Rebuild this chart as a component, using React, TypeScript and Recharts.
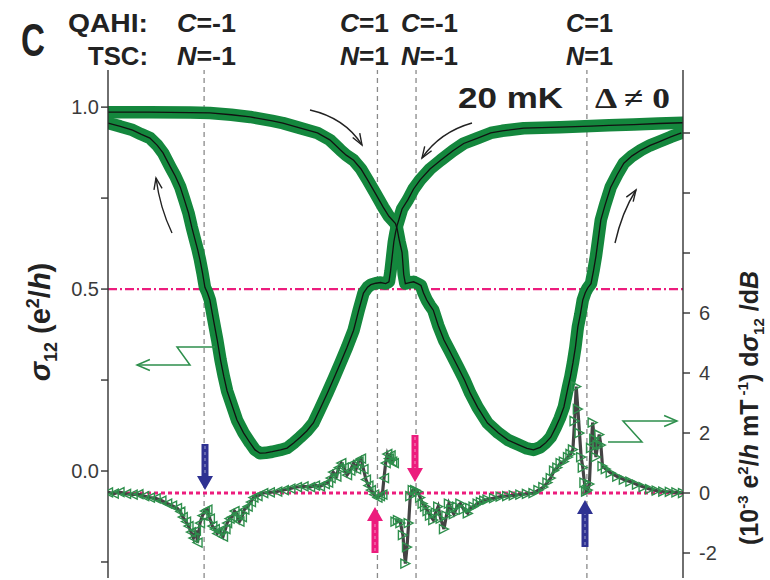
import { ComposedChart, Line, XAxis, YAxis, ReferenceLine } from 'recharts';

const GREEN = '#14873d';
const TRI = '#2e8f4c';
const PINK = '#ec1c7d';
const NAVY = '#2e3192';
const AXIS = '#333';
const FONT = '"Liberation Sans", Arial, sans-serif';

// sweep -B -> +B (starts on the upper flat branch at the left)
const upField = [
  -350, -300, -250, -226, -200, -177, -150, -137, -120, -95, -80, -67, -60, -51, -42, -34, -25, -15, -8, 0,
  2, 5, 8, 10, 12, 17, 22, 27, 31, 34, 38, 42, 46, 52, 59, 66, 76, 84, 91, 100, 112, 125, 137, 150, 160,
  168, 176, 183, 189, 195, 200, 205, 210, 213, 216, 219, 222, 225, 228, 231, 234, 238, 241, 244, 247, 250,
  255, 262, 270, 278, 288, 299, 310, 320, 335, 348,
];
const upSigma = [
  0.986, 0.986, 0.985, 0.984, 0.979, 0.973, 0.962, 0.956, 0.945, 0.929, 0.91, 0.882, 0.868, 0.854, 0.83, 0.8,
  0.765, 0.725, 0.7, 0.68, 0.665, 0.63, 0.6, 0.54, 0.515, 0.518, 0.52, 0.515, 0.51, 0.49, 0.47, 0.455, 0.442,
  0.4, 0.36, 0.33, 0.286, 0.25, 0.214, 0.175, 0.132, 0.105, 0.085, 0.072, 0.062, 0.058, 0.065, 0.078, 0.093,
  0.12, 0.145, 0.176, 0.23, 0.26, 0.297, 0.34, 0.396, 0.43, 0.47, 0.49, 0.503, 0.515, 0.55, 0.59, 0.64, 0.69,
  0.73, 0.78, 0.815, 0.846, 0.866, 0.882, 0.895, 0.904, 0.918, 0.929,
];

// sweep +B -> -B
const downField = [
  350, 320, 290, 260, 238, 200, 156, 130, 116, 100, 83, 70, 55, 42, 30, 22, 15, 8, 2, 0, -2, -4, -6, -8, -12,
  -18, -24, -30, -34, -39, -45, -51, -59, -67, -75, -83, -92, -100, -108, -116, -124, -132, -140, -150, -158,
  -165, -171, -177, -185, -193, -199, -205, -209, -213, -217, -222, -226, -229, -232, -235, -238, -241, -244,
  -248, -252, -257, -262, -268, -274, -283, -290, -299, -310, -320, -335, -350,
];
const downSigma = [
  0.957, 0.955, 0.952, 0.95, 0.948, 0.945, 0.942, 0.935, 0.929, 0.915, 0.9, 0.88, 0.854, 0.83, 0.8, 0.775,
  0.745, 0.72, 0.675, 0.655, 0.63, 0.59, 0.55, 0.52, 0.515, 0.518, 0.516, 0.512, 0.505, 0.489, 0.44, 0.387,
  0.34, 0.297, 0.255, 0.214, 0.17, 0.132, 0.11, 0.093, 0.077, 0.063, 0.058, 0.053, 0.05, 0.049, 0.058, 0.077,
  0.105, 0.14, 0.18, 0.22, 0.26, 0.305, 0.36, 0.42, 0.47, 0.49, 0.505, 0.545, 0.58, 0.61, 0.635, 0.67, 0.709,
  0.745, 0.78, 0.81, 0.835, 0.874, 0.895, 0.915, 0.926, 0.937, 0.947, 0.956,
];

// d sigma_12 / dB, negative-field half (10^-3 e^2/h mT^-1)
const derivLField = [
  -350, -343, -336, -328, -320, -313, -306, -299, -292, -285, -278, -272, -266, -262, -259, -255, -252, -249,
  -246, -243, -241, -238, -235, -232, -229, -226, -223, -220, -217, -214, -210, -207, -205, -202, -199, -196,
  -193, -190, -187, -184, -180, -176, -173, -168, -161, -153, -144, -136, -128, -120, -112, -104, -98, -92,
  -86, -82, -79, -76, -72, -69, -66, -63, -59, -55, -51, -48, -45, -42, -39, -36, -33, -30, -26, -22, -19,
  -16, -14, -12, -10, -8, -6, -4, -2,
];
const derivLVal = [
  0.02, -0.02, 0.03, -0.03, -0.05, -0.04, -0.1, -0.15, -0.18, -0.25, -0.35, -0.42, -0.5, -0.62, -0.8, -0.95,
  -1.1, -1.3, -1.5, -1.25, -1.65, -1.0, -0.75, -0.6, -0.55, -0.85, -1.1, -1.2, -1.35, -1.25, -1.45, -1.2,
  -1.0, -0.85, -0.8, -0.6, -0.7, -0.95, -0.8, -0.55, -0.45, -0.3, -0.15, -0.1, 0, 0.02, 0.05, 0.1, 0.15, 0.2,
  0.22, 0.2, 0.25, 0.22, 0.3, 0.35, 0.5, 0.7, 0.55, 0.85, 1.0, 0.85, 0.6, 0.75, 1.0, 0.8, 1.05, 1.15, 0.8,
  0.45, 0.25, 0.1, -0.05, -0.15, -0.1, -0.05, 0.5, 1.0, 1.3, 1.15, 1.25, 1.05, 1.0,
];

// d sigma_12 / dB, positive-field half
const derivRField = [
  0, 3, 6, 9, 12, 14, 16, 18, 21, 24, 27, 30, 33, 36, 39, 42, 46, 49, 52, 55, 59, 62, 65, 68, 71, 75, 79, 83,
  88, 91, 95, 100, 104, 108, 112, 120, 128, 136, 144, 152, 160, 168, 174, 180, 185, 189, 193, 197, 201, 205,
  210, 213, 216, 218, 220, 222, 224, 226, 228, 230, 232, 234, 236, 238, 240, 242, 244, 246, 248, 250, 252,
  256, 262, 270, 278, 286, 294, 302, 310, 318, 326, 334, 342, 350,
];
const derivRVal = [
  -0.95, -0.9, -1.0, -1.4, -2.35, -1.8, -1.0, -0.1, 0.1, 0.1, 0.05, -0.15, -0.35, -0.45, -0.6, -0.75, -0.9,
  -0.65, -0.45, -0.85, -1.2, -0.75, -0.35, -0.55, -0.7, -0.45, -0.35, -0.55, -0.68, -0.5, -0.45, -0.35, -0.3,
  -0.25, -0.22, -0.17, -0.12, -0.1, -0.08, -0.05, -0.03, 0, 0.1, 0.2, 0.35, 0.5, 0.75, 0.85, 1.0, 1.05, 1.2,
  1.3, 1.45, 2.4, 3.55, 2.8, 2.0, 1.2, 0.85, 0.35, 0.05, 0.1, 0.3, 1.5, 2.35, 1.8, 1.2, 1.6, 1.95, 1.6, 0.9,
  0.8, 0.67, 0.55, 0.45, 0.38, 0.28, 0.2, 0.13, 0.08, 0.05, 0.04, 0.02, 0.0,
];

const dashedFields = [-233, -22, 25, 233];
const xTicks = [-300, -200, -100, 0, 100, 200, 300];
const leftTicks = [-0.25, 0, 0.25, 0.5, 0.75, 1];
const rightTicks = [-2, 0, 2, 4, 6, 8, 10, 12];
const qahiLabels = ['C=-1', 'C=1', 'C=-1', 'C=1'];
const tscLabels = ['N=-1', 'N=1', 'N=-1', 'N=1'];
const labelX = [177, 340, 401, 566];
const labelW = [59, 49, 57, 47];

const zip = (xs: number[], ys: number[]) => xs.map((x, i) => ({ x, y: ys[i] }));
const upData = zip(upField, upSigma);
const downData = zip(downField, downSigma);
const derivLData = zip(derivLField, derivLVal);
const derivRData = zip(derivRField, derivRVal);

function triDot(dir: 'left' | 'right') {
  return (p: any) => {
    const { cx, cy, index } = p;
    const key = `${dir}-${index}`;
    if (cx == null || cy == null) return <g key={key} />;
    const s = 4.5;
    const pts =
      dir === 'left'
        ? `${cx - s},${cy} ${cx + s},${cy - s} ${cx + s},${cy + s}`
        : `${cx + s},${cy} ${cx - s},${cy - s} ${cx - s},${cy + s}`;
    return <polygon key={key} points={pts} fill="#fff" fillOpacity={0} stroke={TRI} strokeWidth={1.4} />;
  };
}

function head(tx: number, ty: number, fx: number, fy: number, len = 11, spread = 0.42) {
  const a = Math.atan2(ty - fy, tx - fx);
  const p1 = [tx - len * Math.cos(a - spread), ty - len * Math.sin(a - spread)];
  const p2 = [tx - len * Math.cos(a + spread), ty - len * Math.sin(a + spread)];
  return `M${p1[0]},${p1[1]} L${tx},${ty} L${p2[0]},${p2[1]}`;
}

function CurvedArrow({ d, tip, from }: { d: string; tip: [number, number]; from: [number, number] }) {
  return (
    <g fill="none" stroke="#222" strokeWidth={1.4}>
      <path d={d} />
      <path d={head(tip[0], tip[1], from[0], from[1], 12, 0.35)} />
    </g>
  );
}

function BlockArrow({ x, tail, tip, color }: { x: number; tail: number; tip: number; color: string }) {
  const dir = tip > tail ? 1 : -1;
  const hl = 14;
  const hw = 8;
  const sw = 3.5;
  const neck = tip - dir * hl;
  const pts = [
    [x - sw, tail],
    [x + sw, tail],
    [x + sw, neck],
    [x + hw, neck],
    [x, tip],
    [x - hw, neck],
    [x - sw, neck],
  ]
    .map((p) => p.join(','))
    .join(' ');
  return (
    <g>
      <polygon points={pts} fill={color} />
      <line x1={x} y1={tail + 2 * dir} x2={x} y2={neck} stroke="#fff" strokeOpacity={0.35} strokeWidth={1.5} strokeDasharray="3 3" />
    </g>
  );
}

function Overlay() {
  return (
    <svg
      width={770}
      height={580}
      style={{ position: 'absolute', left: 0, top: 0, pointerEvents: 'none' }}
      fontFamily={FONT}
    >
      <text transform="translate(21,56) scale(0.72,1)" fontSize={46} fontWeight="bold" fill="#222">
        C
      </text>
      <text x={148} y={32} textAnchor="end" fontSize={25} fontWeight="bold" fill="#222" textLength={80} lengthAdjust="spacingAndGlyphs">
        QAHI:
      </text>
      <text x={148} y={65} textAnchor="end" fontSize={25} fontWeight="bold" fill="#222" textLength={60} lengthAdjust="spacingAndGlyphs">
        TSC:
      </text>
      {qahiLabels.map((s, i) => (
        <text key={`q${i}`} x={labelX[i]} y={32} fontSize={25} fontWeight="bold" fill="#222" textLength={labelW[i]} lengthAdjust="spacingAndGlyphs">
          <tspan fontStyle="italic">{s[0]}</tspan>
          {s.slice(1)}
        </text>
      ))}
      {tscLabels.map((s, i) => (
        <text key={`t${i}`} x={labelX[i]} y={65} fontSize={25} fontWeight="bold" fill="#222" textLength={labelW[i]} lengthAdjust="spacingAndGlyphs">
          <tspan fontStyle="italic">{s[0]}</tspan>
          {s.slice(1)}
        </text>
      ))}

      <text x={458} y={108} fontSize={30} fontWeight="bold" fill="#222" textLength={105} lengthAdjust="spacingAndGlyphs">
        20 mK
      </text>
      <text x={595} y={108} fontSize={30} fontWeight="bold" fill="#222" fontFamily='"Liberation Serif", serif' textLength={75} lengthAdjust="spacingAndGlyphs">
        Δ ≠ 0
      </text>

      {/* axis titles */}
      <text transform="translate(50,322) rotate(-90)" textAnchor="middle" fontSize={29} fontWeight="bold" fill="#222">
        <tspan fontStyle="italic">σ</tspan>
        <tspan fontSize={18} dy={7}>12</tspan>
        <tspan dy={-7}> (e</tspan>
        <tspan fontSize={18} dy={-11}>2</tspan>
        <tspan dy={11}>/</tspan>
        <tspan fontStyle="italic">h</tspan>
        <tspan>)</tspan>
      </text>
      <text transform="translate(758,408) rotate(-90)" textAnchor="middle" fontSize={25} fontWeight="bold" fill="#222">
        <tspan>(10</tspan>
        <tspan fontSize={15} dy={-10}>-3</tspan>
        <tspan dy={10}> e</tspan>
        <tspan fontSize={15} dy={-10}>2</tspan>
        <tspan dy={10}>/</tspan>
        <tspan fontStyle="italic">h</tspan>
        <tspan> mT</tspan>
        <tspan fontSize={15} dy={-10}> -1</tspan>
        <tspan dy={10}>) d</tspan>
        <tspan fontStyle="italic">σ</tspan>
        <tspan fontSize={15} dy={6}>12</tspan>
        <tspan dy={-6}> /d</tspan>
        <tspan fontStyle="italic">B</tspan>
      </text>

      {/* sweep direction arrows */}
      <CurvedArrow d="M172,233 Q160,208 156,178" tip={[156, 178]} from={[160, 200]} />
      <CurvedArrow d="M310,110 Q345,118 362,145" tip={[362, 145]} from={[350, 125]} />
      <CurvedArrow d="M472,123 Q440,132 422,158" tip={[422, 158]} from={[435, 138]} />
      <CurvedArrow d="M615,243 Q622,212 636,190" tip={[636, 190]} from={[626, 205]} />

      {/* which-axis arrows */}
      <g fill="none" stroke={TRI} strokeWidth={1.5}>
        <path d="M215,347 L177,347 L190,365 L137,365" />
        <path d={head(137, 365, 160, 365, 14, 0.4)} />
        <path d="M608,442 L642,442 L623,421 L677,421" />
        <path d={head(677, 421, 650, 421, 14, 0.4)} />
      </g>

      <BlockArrow x={205} tail={444} tip={490} color={NAVY} />
      <BlockArrow x={585} tail={547} tip={500} color={NAVY} />
      <BlockArrow x={415} tail={435} tip={482} color={PINK} />
      <BlockArrow x={375} tail={553} tip={507} color={PINK} />
    </svg>
  );
}

export default function App() {
  const tickStyle = { fontSize: 20, fill: '#3a3a3a', fontFamily: FONT };
  const band = { stroke: GREEN, strokeWidth: 12.5, strokeLinejoin: 'round' as const, strokeLinecap: 'round' as const };
  return (
    <div style={{ position: 'absolute', left: 0, top: 0, width: 770, height: 580, background: '#fff' }}>
      <ComposedChart width={770} height={580} margin={{ top: 70, right: 27, bottom: 2, left: 48 }}>
        <XAxis
          type="number"
          dataKey="x"
          domain={[-350, 350]}
          ticks={xTicks}
          allowDataOverflow
          mirror
          height={0}
          tickSize={7}
          tickFormatter={() => ''}
          axisLine={{ stroke: AXIS, strokeWidth: 1.4 }}
          tickLine={{ stroke: AXIS, strokeWidth: 1.4 }}
        />
        <XAxis
          xAxisId="top"
          orientation="top"
          type="number"
          domain={[-350, 350]}
          ticks={dashedFields}
          allowDataOverflow
          mirror
          height={0}
          tickSize={6}
          tickFormatter={() => ''}
          axisLine={{ stroke: AXIS, strokeWidth: 1.4 }}
          tickLine={{ stroke: '#666', strokeWidth: 1.2 }}
        />
        <YAxis
          yAxisId="left"
          type="number"
          domain={[-0.294, 1.102]}
          ticks={leftTicks}
          allowDataOverflow
          width={60}
          tickSize={7}
          tickMargin={2}
          tick={tickStyle}
          tickFormatter={(v: number) => (v === 0 || v === 0.5 || v === 1 ? v.toFixed(1) : '')}
          axisLine={{ stroke: AXIS, strokeWidth: 1.4 }}
          tickLine={{ stroke: AXIS, strokeWidth: 1.4 }}
        />
        <YAxis
          yAxisId="right"
          orientation="right"
          type="number"
          domain={[-2.833, 14.1]}
          ticks={rightTicks}
          allowDataOverflow
          width={60}
          tickSize={7}
          tickMargin={9}
          tick={tickStyle}
          tickFormatter={(v: number) => (v <= 6 ? String(v) : '')}
          axisLine={{ stroke: AXIS, strokeWidth: 1.4 }}
          tickLine={{ stroke: AXIS, strokeWidth: 1.4 }}
        />

        {dashedFields.map((f) => (
          <ReferenceLine key={f} x={f} yAxisId="left" stroke="#8a8a8a" strokeWidth={1.3} strokeDasharray="5 4" />
        ))}
        <ReferenceLine y={0.5} yAxisId="left" stroke={PINK} strokeWidth={2.2} strokeDasharray="9 3 2 3" />
        <ReferenceLine y={0} yAxisId="right" stroke={PINK} strokeWidth={3} strokeDasharray="4 3" />

        <Line data={derivLData} dataKey="y" yAxisId="right" stroke="none" dot={triDot('left')} isAnimationActive={false} />
        <Line data={derivRData} dataKey="y" yAxisId="right" stroke="none" dot={triDot('right')} isAnimationActive={false} />
        <Line data={derivLData} dataKey="y" yAxisId="right" stroke="#444" strokeWidth={3.2} dot={false} isAnimationActive={false} />
        <Line data={derivRData} dataKey="y" yAxisId="right" stroke="#444" strokeWidth={3.2} dot={false} isAnimationActive={false} />

        <Line data={upData} dataKey="y" yAxisId="left" {...band} dot={false} isAnimationActive={false} />
        <Line data={downData} dataKey="y" yAxisId="left" {...band} dot={false} isAnimationActive={false} />
        <Line data={upData} dataKey="y" yAxisId="left" stroke="#111" strokeWidth={1.3} dot={false} isAnimationActive={false} />
        <Line data={downData} dataKey="y" yAxisId="left" stroke="#111" strokeWidth={1.3} dot={false} isAnimationActive={false} />
      </ComposedChart>
      <Overlay />
    </div>
  );
}
